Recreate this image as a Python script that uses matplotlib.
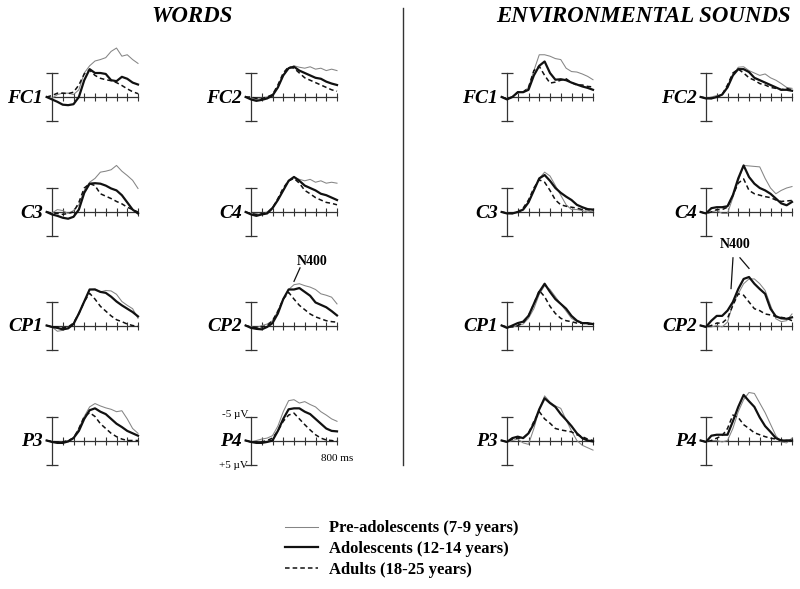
import matplotlib
matplotlib.use('Agg')
import matplotlib.pyplot as plt
from matplotlib.lines import Line2D

plt.rcParams['font.family'] = ['Liberation Serif', 'DejaVu Serif']

# ---------------- data ----------------
times = [-50, 0, 50, 100, 150, 200, 250, 300, 350, 400, 450, 500, 550, 600, 650, 700, 750, 800]
time_ticks = [100, 200, 300, 400, 500, 600, 700, 800]
calib_uv = [-5, 5]
group_labels = ['Pre-adolescents (7-9 years)', 'Adolescents (12-14 years)', 'Adults (18-25 years)']
conditions = ['WORDS', 'ENVIRONMENTAL SOUNDS']
electrodes_left = ['FC1', 'C3', 'CP1', 'P3']
electrodes_right = ['FC2', 'C4', 'CP2', 'P4']

# WORDS (µV, negative up)
w_fc1_pre = [0, 0.3, -0.5, -0.8, -0.8, -0.5, -1.5, -5.0, -6.5, -7.5, -7.8, -8.2, -9.5, -10.2, -8.5, -8.8, -7.8, -7.0]
w_fc1_adol = [0, 0.5, 1.0, 1.6, 1.7, 1.5, 0.0, -3.5, -5.8, -5.0, -5.0, -4.8, -3.5, -3.3, -4.2, -3.8, -3.0, -2.6]
w_fc1_adult = [0, -0.3, -0.8, -0.8, -0.7, -1.0, -2.5, -4.8, -5.6, -4.5, -3.9, -3.6, -3.4, -3.0, -2.4, -1.7, -1.1, -0.7]

w_fc2_pre = [0, 0.3, 0.5, 0.2, 0, -0.5, -2.0, -4.5, -6.0, -6.5, -6.2, -6.0, -6.3, -5.8, -6.0, -5.5, -5.8, -5.5]
w_fc2_adol = [0, 0.5, 0.8, 0.6, 0.3, -0.3, -2.0, -4.5, -6.0, -6.3, -5.5, -5.0, -4.5, -4.0, -3.8, -3.2, -2.8, -2.5]
w_fc2_adult = [0, 0, 0.3, 0.3, 0, -0.5, -2.5, -5.0, -6.3, -6.0, -5.0, -4.0, -3.5, -3.0, -2.5, -2.0, -1.5, -1.2]

w_c3_pre = [0, 0.2, -0.5, -0.3, 0.3, -0.3, -1.5, -4.5, -6.2, -7.0, -8.3, -8.5, -8.8, -9.7, -8.5, -7.6, -6.6, -4.9]
w_c3_adol = [0, 0.5, 0.8, 1.2, 1.4, 1.0, -0.5, -4.0, -5.9, -6.0, -5.9, -5.5, -4.9, -4.5, -3.5, -2.0, -0.5, 0.3]
w_c3_adult = [0, 0.2, 0.3, 0.5, 0.3, 0, -2.0, -5.0, -5.9, -5.5, -3.8, -3.3, -2.8, -2.2, -1.7, -1.0, -0.5, 0]

w_c4_pre = [0, 0.3, 0.5, 0.3, 0, -1.0, -2.5, -4.5, -6.5, -7.3, -6.8, -6.5, -6.8, -6.2, -6.5, -6.0, -6.2, -6.0]
w_c4_adol = [0, 0.5, 0.8, 0.5, 0.3, -0.8, -2.5, -4.5, -6.5, -7.3, -6.5, -5.5, -5.0, -4.5, -3.8, -3.5, -3.0, -2.5]
w_c4_adult = [0, 0.3, 0.5, 0.3, 0.2, -0.8, -2.8, -5.0, -6.5, -7.0, -6.0, -4.5, -3.8, -3.0, -2.5, -2.0, -1.8, -1.5]

w_cp1_pre = [0, 0.3, 1.2, 1.0, 0.5, -0.5, -2.5, -5.0, -7.5, -7.6, -7.0, -7.3, -7.2, -6.5, -5.0, -4.2, -3.5, -1.5]
w_cp1_adol = [0, 0.3, 0.5, 0.8, 0.6, -0.3, -2.5, -5.0, -7.5, -7.5, -7.0, -6.8, -6.0, -5.0, -4.2, -3.5, -2.8, -1.9]
w_cp1_adult = [0, 0.3, 0.3, 0.5, 0.3, -0.5, -2.5, -5.0, -6.7, -5.5, -4.0, -3.0, -2.0, -1.2, -0.8, -0.3, 0, 0.2]

w_cp2_pre = [0, 0.3, 0.5, 0, -0.3, -1.0, -3.0, -5.5, -7.5, -8.5, -8.7, -8.3, -8.0, -7.5, -6.6, -6.3, -5.9, -4.5]
w_cp2_adol = [0, 0.5, 0.7, 0.8, 0.3, -0.5, -2.5, -5.5, -7.5, -7.5, -7.8, -7.0, -6.2, -4.8, -4.3, -3.8, -3.0, -2.1]
w_cp2_adult = [0, 0.3, 0.5, 0.3, 0, -1.0, -3.0, -5.5, -6.9, -5.5, -4.2, -3.3, -2.4, -1.8, -1.4, -1.0, -0.8, -0.7]

w_p3_pre = [0, 0.3, 0.5, 0.3, 0, -0.5, -2.5, -5.0, -7.0, -7.7, -7.2, -6.8, -6.5, -6.0, -6.2, -4.5, -2.5, -1.5]
w_p3_adol = [0, 0.3, 0.5, 0.5, 0.2, -0.5, -2.0, -4.5, -6.3, -6.7, -6.0, -5.5, -4.5, -3.5, -2.8, -2.0, -1.5, -1.0]
w_p3_adult = [0, 0.2, 0.3, 0.3, 0, -0.5, -2.5, -5.0, -5.8, -5.0, -3.5, -2.5, -1.5, -0.8, -0.3, 0, 0, 0]

w_p4_pre = [0, 0.3, 0, -0.3, -0.5, -1.0, -3.0, -6.0, -8.3, -8.5, -7.8, -8.1, -7.5, -7.0, -6.0, -5.3, -4.5, -4.0]
w_p4_adol = [0, 0.3, 0.5, 0.5, 0.3, 0, -2.0, -4.5, -6.5, -6.7, -6.7, -6.0, -5.5, -4.5, -3.5, -2.5, -2.0, -1.9]
w_p4_adult = [0, 0.3, 0.3, 0.3, 0, -0.5, -2.0, -4.0, -5.3, -5.7, -4.5, -3.3, -2.2, -1.2, -0.5, -0.1, 0, 0.2]

# ENVIRONMENTAL SOUNDS
s_fc1_pre = [0, 0.5, 0, -1.0, -1.0, -2.0, -5.5, -8.8, -8.8, -8.5, -8.0, -7.8, -6.0, -5.3, -5.2, -4.8, -4.3, -3.6]
s_fc1_adol = [0, 0.5, 0, -1.0, -1.0, -1.5, -4.5, -6.5, -7.4, -5.0, -3.6, -3.7, -3.5, -3.0, -2.6, -2.2, -1.9, -1.5]
s_fc1_adult = [0, 0.3, 0, -1.0, -1.0, -2.0, -5.5, -6.4, -4.5, -2.9, -3.1, -3.5, -3.8, -3.0, -2.5, -2.5, -2.2, -2.1]

s_fc2_pre = [0, 0.3, 0, -0.3, -0.5, -2.0, -4.5, -6.2, -6.3, -5.5, -5.0, -4.5, -4.8, -4.0, -3.5, -2.8, -2.0, -1.8]
s_fc2_adol = [0, 0.3, 0.3, 0, -0.5, -2.0, -4.5, -5.8, -5.8, -5.2, -4.0, -3.5, -3.0, -2.5, -2.0, -1.5, -1.5, -1.3]
s_fc2_adult = [0, 0.2, 0.3, 0, -0.5, -2.5, -5.0, -5.8, -5.0, -4.0, -3.5, -2.8, -2.5, -2.0, -1.8, -1.5, -1.8, -1.5]

s_c3_pre = [0, 0.3, 0.3, 0, -0.5, -2.0, -4.5, -7.0, -8.3, -7.5, -5.5, -3.5, -1.5, -0.5, -0.5, -0.3, 0, -0.2]
s_c3_adol = [0, 0.3, 0.3, 0, -0.5, -2.0, -4.5, -7.0, -7.7, -6.5, -5.0, -4.0, -3.2, -2.5, -1.5, -1.0, -0.6, -0.5]
s_c3_adult = [0, 0.2, 0.3, 0, -0.8, -2.5, -5.0, -6.7, -6.2, -4.5, -2.5, -1.5, -1.2, -1.0, -0.8, -0.5, -0.5, -0.3]

s_c4_pre = [0, 0.3, 0, -0.3, 0.3, 0.3, -3.0, -6.5, -9.7, -9.6, -9.5, -9.4, -7.0, -5.0, -3.8, -4.5, -5.0, -5.3]
s_c4_adol = [0, 0.3, -0.8, -1.0, -1.0, -1.2, -3.5, -7.0, -9.7, -7.3, -5.9, -5.0, -4.5, -3.8, -2.8, -1.8, -1.4, -2.1]
s_c4_adult = [0, 0.3, 0, -0.5, -0.5, -1.0, -3.5, -6.0, -6.9, -4.5, -3.8, -3.5, -3.2, -3.0, -2.5, -2.2, -2.3, -2.4]

s_cp1_pre = [0, 0.3, 0.3, 0, -0.3, -1.5, -3.5, -6.5, -8.3, -7.5, -6.0, -4.5, -3.0, -1.5, -0.8, -0.5, -0.3, -0.3]
s_cp1_adol = [0, 0.5, 0, -0.5, -0.8, -2.0, -4.5, -7.0, -8.7, -7.0, -5.5, -4.5, -3.5, -2.0, -1.0, -0.5, -0.5, -0.3]
s_cp1_adult = [0, 0.3, 0.3, 0, -0.5, -2.0, -4.5, -7.3, -6.0, -4.0, -2.5, -1.5, -1.0, -0.8, -0.5, -0.5, -0.3, -0.3]

s_cp2_pre = [0, 0.3, 0.3, 0, 0.3, -0.7, -4.5, -6.6, -8.7, -9.7, -9.7, -8.7, -7.3, -4.2, -1.4, -0.8, -1.0, -2.4]
s_cp2_adol = [0, 0.3, -1.0, -2.0, -2.0, -3.1, -4.9, -7.6, -9.7, -10.1, -8.7, -7.6, -6.6, -3.5, -1.9, -1.5, -1.4, -1.7]
s_cp2_adult = [0, 0.3, 0, -0.5, -0.5, -1.5, -4.2, -6.6, -6.3, -4.9, -3.5, -3.1, -2.4, -2.2, -1.9, -1.7, -1.5, -1.0]

s_p3_pre = [0, 0.3, 0, -0.3, 0.5, 0.8, -2.5, -6.5, -9.3, -8.0, -7.2, -6.7, -4.3, -2.0, 0.0, 1.0, 1.5, 2.0]
s_p3_adol = [0, 0.3, -0.5, -0.8, -0.5, -1.5, -3.5, -6.5, -8.8, -7.8, -7.0, -5.5, -4.3, -3.0, -1.5, -0.5, 0.0, 0.2]
s_p3_adult = [0, 0.3, -0.3, -0.5, -0.5, -1.5, -4.0, -6.0, -4.5, -3.6, -2.5, -2.2, -2.0, -1.8, -1.2, -0.8, -0.3, 0]

s_p4_pre = [0, 0.3, 0, 0, 0.3, 0, -2.5, -6.0, -8.5, -10.0, -9.8, -7.8, -5.8, -3.4, -1.0, 0.3, 0.5, -0.5]
s_p4_adol = [0, 0.3, -1.0, -1.2, -1.2, -1.2, -4.0, -7.0, -9.5, -8.2, -7.0, -4.8, -3.0, -1.8, -0.5, 0, 0, 0]
s_p4_adult = [0, 0.3, 0, -0.5, -1.0, -2.5, -5.3, -4.8, -3.3, -2.5, -1.6, -1.2, -0.8, -0.5, -0.3, -0.1, 0, 0]

panels = {
    ('WORDS', 'FC1'): (w_fc1_pre, w_fc1_adol, w_fc1_adult),
    ('WORDS', 'FC2'): (w_fc2_pre, w_fc2_adol, w_fc2_adult),
    ('WORDS', 'C3'): (w_c3_pre, w_c3_adol, w_c3_adult),
    ('WORDS', 'C4'): (w_c4_pre, w_c4_adol, w_c4_adult),
    ('WORDS', 'CP1'): (w_cp1_pre, w_cp1_adol, w_cp1_adult),
    ('WORDS', 'CP2'): (w_cp2_pre, w_cp2_adol, w_cp2_adult),
    ('WORDS', 'P3'): (w_p3_pre, w_p3_adol, w_p3_adult),
    ('WORDS', 'P4'): (w_p4_pre, w_p4_adol, w_p4_adult),
    ('ENVIRONMENTAL SOUNDS', 'FC1'): (s_fc1_pre, s_fc1_adol, s_fc1_adult),
    ('ENVIRONMENTAL SOUNDS', 'FC2'): (s_fc2_pre, s_fc2_adol, s_fc2_adult),
    ('ENVIRONMENTAL SOUNDS', 'C3'): (s_c3_pre, s_c3_adol, s_c3_adult),
    ('ENVIRONMENTAL SOUNDS', 'C4'): (s_c4_pre, s_c4_adol, s_c4_adult),
    ('ENVIRONMENTAL SOUNDS', 'CP1'): (s_cp1_pre, s_cp1_adol, s_cp1_adult),
    ('ENVIRONMENTAL SOUNDS', 'CP2'): (s_cp2_pre, s_cp2_adol, s_cp2_adult),
    ('ENVIRONMENTAL SOUNDS', 'P3'): (s_p3_pre, s_p3_adol, s_p3_adult),
    ('ENVIRONMENTAL SOUNDS', 'P4'): (s_p4_pre, s_p4_adol, s_p4_adult),
}

# ---------------- layout ----------------
W, H = 800, 589
PX_PER_MS = 86 / 800.0
PX_PER_UV = 4.8
TMIN, TMAX = -100, 850
UTOP, UBOT = -13, 6
col_x = {('WORDS', 0): 52, ('WORDS', 1): 251,
         ('ENVIRONMENTAL SOUNDS', 0): 507, ('ENVIRONMENTAL SOUNDS', 1): 706}
row_y = [97, 212, 325.5, 440.5]

styles = [dict(color='#858585', lw=0.75, zorder=3),
          dict(color='#111111', lw=1.6, zorder=4),
          dict(color='#111111', lw=1.1, ls=(0, (3, 2)), zorder=5)]

fig = plt.figure(figsize=(W / 100, H / 100), dpi=100)


def make_axes(x0, y0):
    left = x0 + TMIN * PX_PER_MS
    width = (TMAX - TMIN) * PX_PER_MS
    top = y0 + UTOP * PX_PER_UV
    height = (UBOT - UTOP) * PX_PER_UV
    ax = fig.add_axes([left / W, 1 - (top + height) / H, width / W, height / H])
    ax.set_xlim(TMIN, TMAX)
    ax.set_ylim(UBOT, UTOP)
    ax.patch.set_visible(False)
    for s in ['top', 'right']:
        ax.spines[s].set_visible(False)
    ax.spines['left'].set_position(('data', 0))
    ax.spines['left'].set_bounds(calib_uv[0], calib_uv[1])
    ax.spines['bottom'].set_position(('data', 0))
    ax.spines['bottom'].set_bounds(0, time_ticks[-1])
    for s in ['left', 'bottom']:
        ax.spines[s].set_color('#333333')
        ax.spines[s].set_linewidth(0.9)
    ax.set_xticks(time_ticks)
    ax.set_xticklabels([])
    ax.set_yticks(calib_uv)
    ax.set_yticklabels([])
    ax.tick_params(axis='x', direction='inout', length=6, width=0.8, color='#333333')
    ax.tick_params(axis='y', direction='inout', length=8, width=0.9, color='#333333')
    return ax


axes = {}
handles = None
for cond in conditions:
    for ci, elist in enumerate([electrodes_left, electrodes_right]):
        for ri, el in enumerate(elist):
            ax = make_axes(col_x[(cond, ci)], row_y[ri])
            axes[(cond, el)] = ax
            hs = []
            for series, st in zip(panels[(cond, el)], styles):
                ln, = ax.plot(times, series, solid_joinstyle='round', **st)
                hs.append(ln)
            if handles is None:
                handles = hs
            ax.annotate(el, xy=(0, 0), xytext=(-9, -1), textcoords='offset pixels',
                        ha='right', va='center', fontsize=14, fontweight='bold',
                        fontstyle='italic', annotation_clip=False)

# calibration labels (WORDS, P4)
axc = axes[('WORDS', 'P4')]
axc.annotate('-5 µV', xy=(0, calib_uv[0]), xytext=(-3, 2), textcoords='offset pixels',
             ha='right', va='center', fontsize=8, annotation_clip=False)
axc.annotate('+5 µV', xy=(0, calib_uv[1]), xytext=(-3, -1), textcoords='offset pixels',
             ha='right', va='center', fontsize=8, annotation_clip=False)
axc.annotate('800 ms', xy=(time_ticks[-1], 0), xytext=(0, -18), textcoords='offset pixels',
             ha='center', va='center', fontsize=8, annotation_clip=False)

# N400 annotations
n400_words_text = (567, -13.3)
n400_words_lines = [((456, -12.0), (400, -9.2))]
n400_sounds_text = (270, -16.9)
n400_sounds_lines = [((251, -14.1), (233, -7.7)), ((316, -14.1), (400, -11.9))]
for key, txt, lines in [(('WORDS', 'CP2'), n400_words_text, n400_words_lines),
                        (('ENVIRONMENTAL SOUNDS', 'CP2'), n400_sounds_text, n400_sounds_lines)]:
    ax = axes[key]
    ax.text(txt[0], txt[1], 'N400', ha='center', va='center', fontsize=10,
            fontweight='bold', clip_on=False)
    for (a, b) in lines:
        ax.plot([a[0], b[0]], [a[1], b[1]], color='#111111', lw=0.9, clip_on=False)

# titles and separator
fig.text(192 / W, 1 - 16 / H, conditions[0], ha='center', va='center',
         fontsize=16.5, fontweight='bold', fontstyle='italic')
fig.text(643 / W, 1 - 16 / H, conditions[1], ha='center', va='center',
         fontsize=16.5, fontweight='bold', fontstyle='italic')
fig.add_artist(Line2D([403 / W, 403 / W], [1 - 8 / H, 1 - 465 / H], color='#333333', lw=1.0))

# legend
fig.legend(handles, group_labels, loc='center left', bbox_to_anchor=(285 / W, 1 - 549 / H),
           frameon=False, borderpad=0, borderaxespad=0, handlelength=2.0,
           handletextpad=0.65, labelspacing=0.27,
           prop={'family': 'Liberation Serif', 'weight': 'bold', 'size': 12})

fig.savefig('out.png', dpi=100)
